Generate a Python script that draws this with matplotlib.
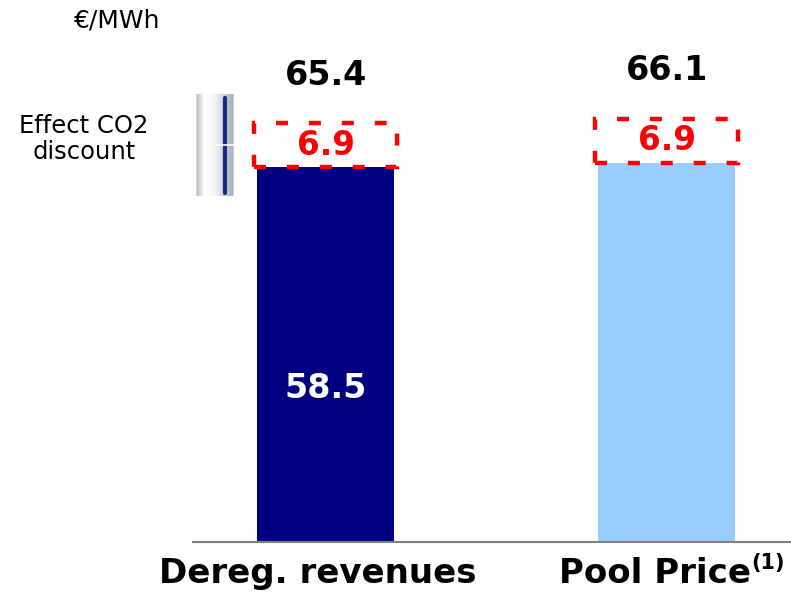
import matplotlib
matplotlib.use("Agg")
from matplotlib import pyplot as plt
from matplotlib.patches import Rectangle, FancyBboxPatch
from matplotlib.colors import LinearSegmentedColormap
import numpy as np

categories = ["Dereg. revenues", "Pool Price"]
base_values = [58.5, 59.2]
co2_effect = [6.9, 6.9]
totals = [65.4, 66.1]
bar_colors = ["#000080", "#99CCFF"]

plt.rcParams['font.family'] = ['DejaVu Sans']

fig = plt.figure(figsize=(7.91, 5.94), dpi=100)
ax = fig.add_axes([193/791, 1-542/594, 1-193/791, 542/594])

x = np.arange(len(categories))
width = 0.40
ax.bar(x, base_values, width=width, color=bar_colors, zorder=2)

for s in ["top", "right", "left"]:
    ax.spines[s].set_visible(False)
ax.spines["bottom"].set_color("#808080")
ax.spines["bottom"].set_linewidth(1.5)
ax.set_xticks([])
ax.set_yticks([])

# dashed box for the CO2 discount on top of each bar
box_w = 0.42
for xi, b, c, t in zip(x, base_values, co2_effect, totals):
    ax.add_patch(Rectangle((xi - box_w/2, b), box_w, c, fill=False,
                           edgecolor="red", linewidth=3.2,
                           linestyle=(0, (2.7, 4.7)), zorder=3))
    ax.text(xi, b + c/2, f"{c:.1f}", color="red", fontsize=23.5,
            fontweight="bold", ha="center", va="center", zorder=4)
    ax.annotate(f"{t:.1f}", (xi, b + c), xytext=(0, 34.5),
                textcoords="offset points", ha="center", va="center",
                fontsize=24, fontweight="bold")

ax.text(x[0], base_values[0]*0.41, f"{base_values[0]:.1f}", color="white",
        fontsize=24, fontweight="bold", ha="center", va="center", zorder=4)

# category labels below the axis
lab0 = ax.annotate(categories[0], (x[0], 0), xytext=(-6, -22.5),
                   textcoords="offset points", ha="center", va="center",
                   fontsize=24.5, fontweight="bold", annotation_clip=False)
lab1 = ax.annotate(categories[1], (x[1], 0), xytext=(-8, -22.5),
                   textcoords="offset points", ha="center", va="center",
                   fontsize=24.5, fontweight="bold", annotation_clip=False)
ax.annotate("(1)", xy=(1, 1), xycoords=lab1, xytext=(0, 3),
            textcoords="offset points", ha="left", va="top",
            fontsize=15, fontweight="bold", annotation_clip=False)

# brace beside the first box
bx0, bx1 = -0.389, -0.26
mid = base_values[0] + co2_effect[0]/2
by0, by1 = mid - 8, mid + 8
tube = LinearSegmentedColormap.from_list(
    "tube", ["#9a9a9a", "#ffffff", "#f4f4f6", "#c8ccd6", "#9aa0b4"])
grad = np.linspace(0, 1, 64).reshape(1, -1)
img = ax.imshow(grad, cmap=tube, aspect="auto",
                extent=(bx0, bx1, by0, by1), zorder=2, interpolation="bilinear")
clip = FancyBboxPatch((bx0 + 0.01, by0), bx1 - bx0 - 0.02, by1 - by0,
                      boxstyle="round,pad=0,rounding_size=0.025",
                      transform=ax.transData, facecolor="none", edgecolor="none")
ax.add_patch(clip)
img.set_clip_path(clip)
ax.plot([bx1 - 0.035, bx1 - 0.035], [by0 + 0.6, by1 - 0.6], color="#1a2a80",
        linewidth=3, zorder=3, solid_capstyle="round")
ax.plot([bx1 - 0.06, bx1 - 0.005], [mid, mid], color="white", linewidth=1.2, zorder=4)
ax.set_xlim(-0.389, 1.365)
ax.set_ylim(0, 84.6)

fig.text(84/791, 1-139/594, "Effect CO2\ndiscount", ha="center", va="center",
         fontsize=17.5, linespacing=1.15)
fig.text(117/791, 1-20/594, "€/MWh", ha="center", va="center", fontsize=18)

fig.savefig("out.png", dpi=100)
